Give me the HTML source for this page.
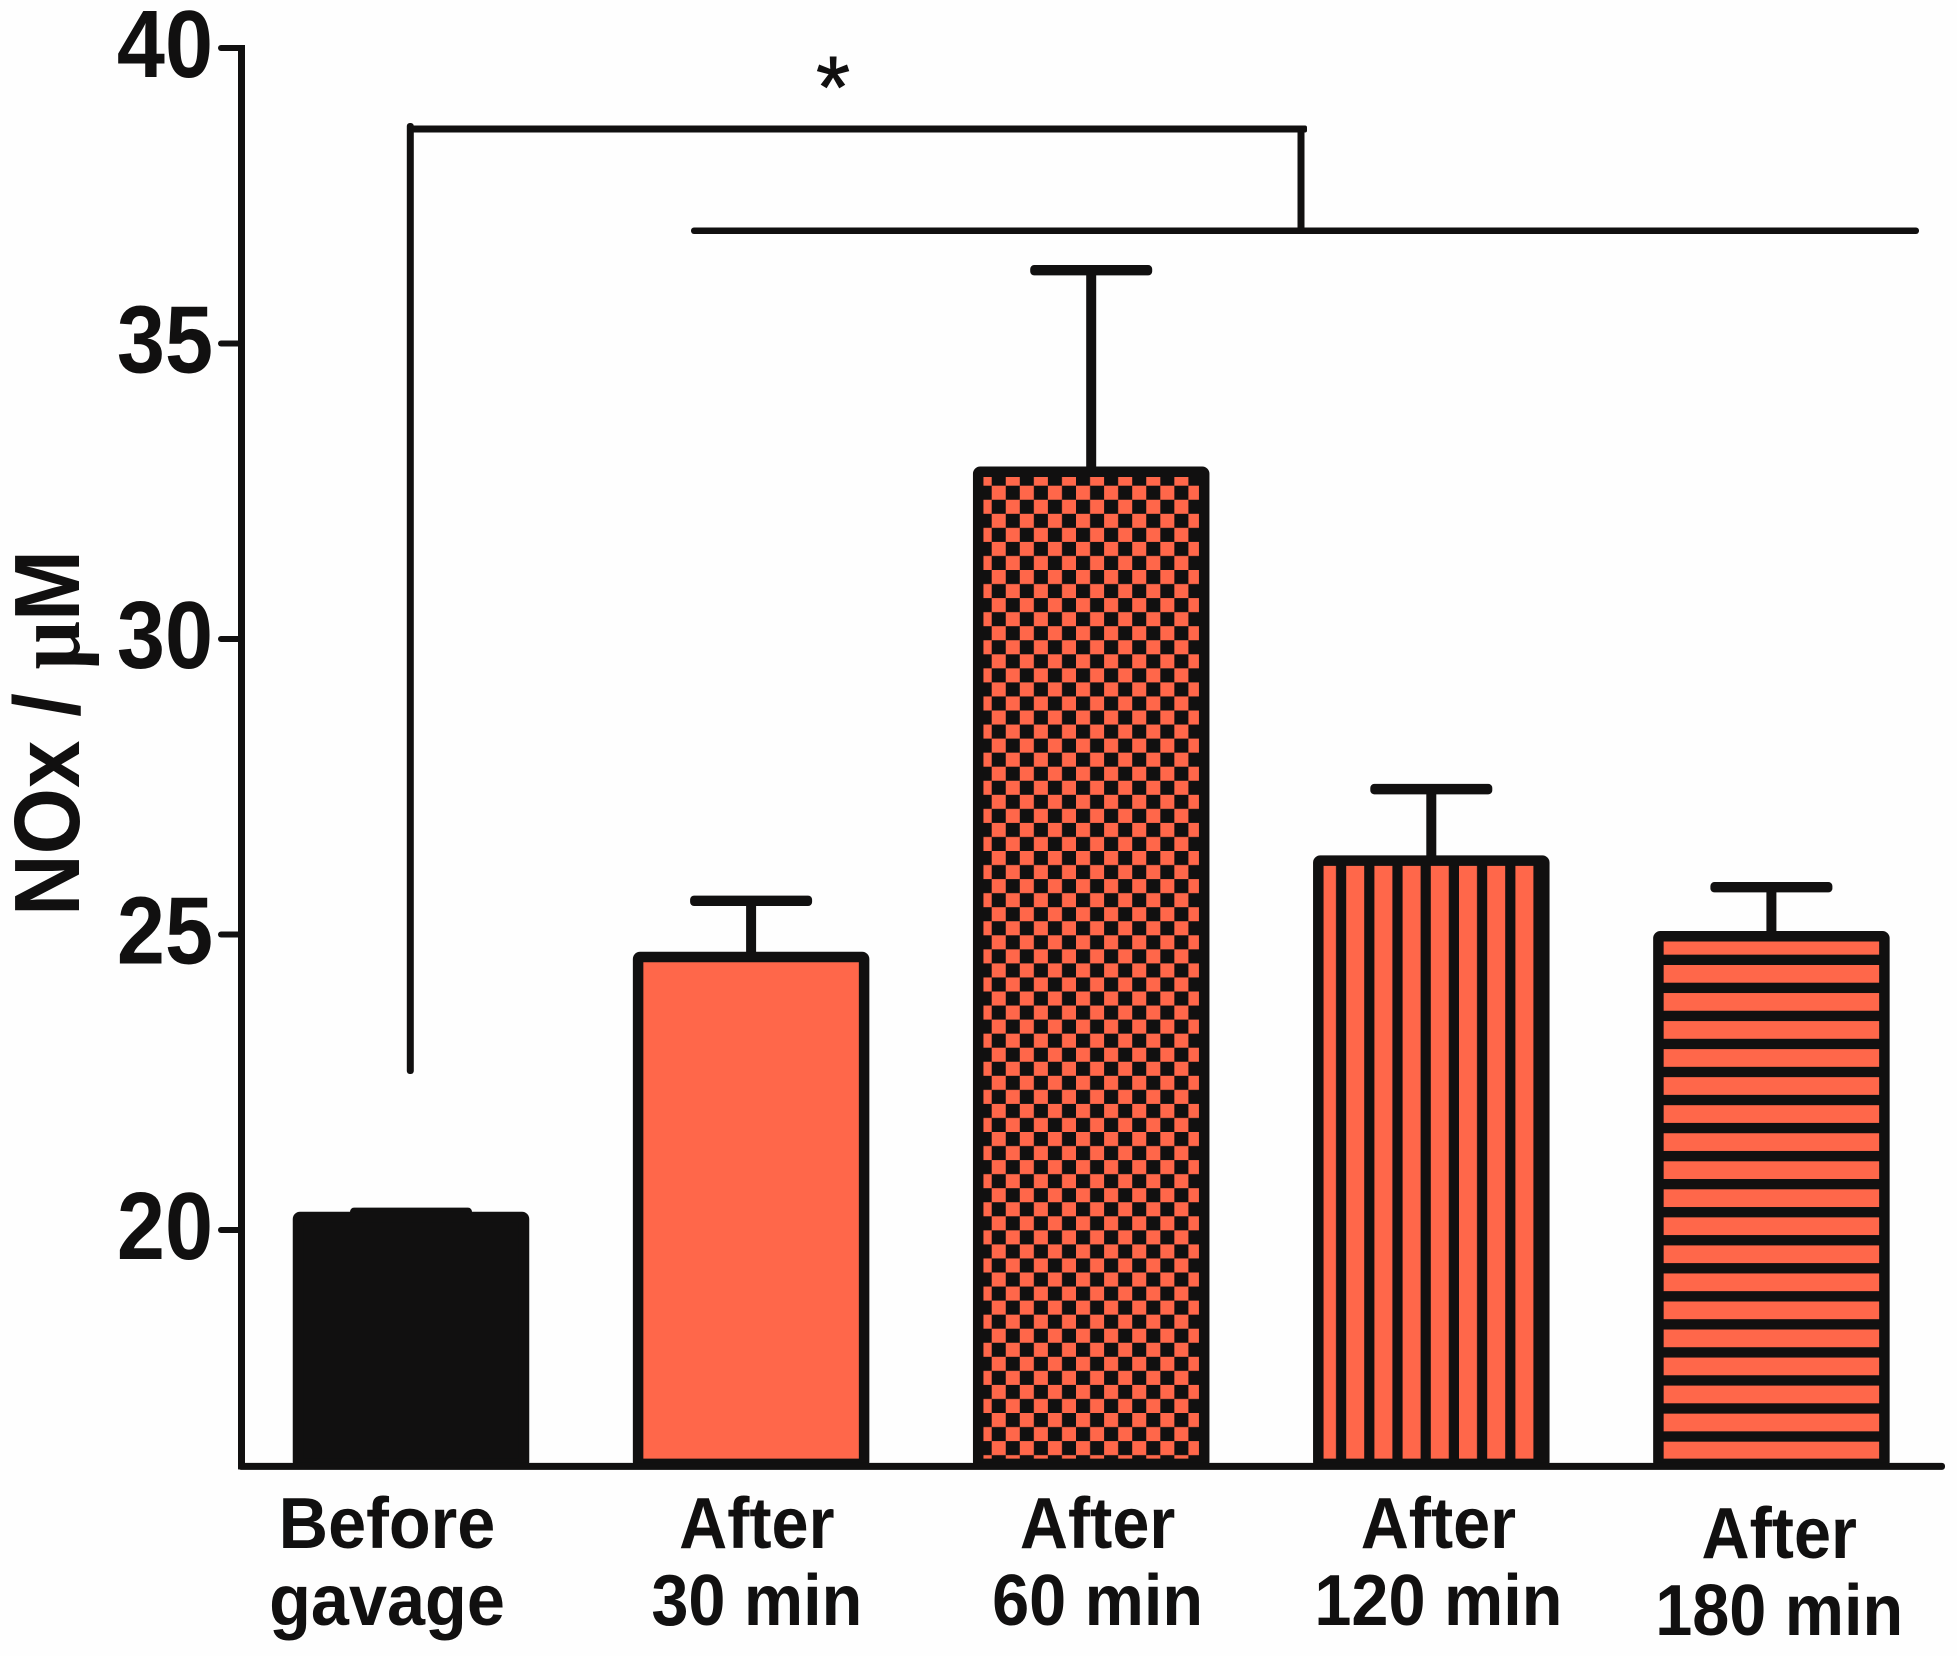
<!DOCTYPE html>
<html lang="en">
<head>
<meta charset="utf-8">
<title>NOx concentration bar chart</title>
<style>
  html, body { margin: 0; padding: 0; background: #fefefe; }
  svg { display: block; }
  text { font-family: "Liberation Sans", Arial, sans-serif; fill: #111010; }
</style>
</head>
<body>
<svg id="chart" xmlns="http://www.w3.org/2000/svg" width="1957" height="1656" viewBox="0 0 1957 1656">
  <defs>
    <pattern id="pattern-checker" patternUnits="userSpaceOnUse" x="991.7" y="485.7" width="28.1" height="28.1">
      <rect x="0" y="0" width="28.1" height="28.1" fill="#111010"/>
      <rect x="0" y="0" width="14.05" height="14.05" fill="#ff674a"/>
      <rect x="14.05" y="14.05" width="14.05" height="14.05" fill="#ff674a"/>
    </pattern>
    <pattern id="pattern-vertical" patternUnits="userSpaceOnUse" x="1346.2" y="0" width="28.2" height="100">
      <rect x="0" y="0" width="28.2" height="100" fill="#111010"/>
      <rect x="0" y="0" width="18" height="100" fill="#ff674a"/>
    </pattern>
    <pattern id="pattern-horizontal" patternUnits="userSpaceOnUse" x="0" y="965" width="100" height="28.04">
      <rect x="0" y="0" width="100" height="28.04" fill="#111010"/>
      <rect x="0" y="0" width="100" height="17.7" fill="#ff674a"/>
    </pattern>
  </defs>
  <rect x="0" y="0" width="1957" height="1656" fill="#fefefe"/>
  <g id="marks"></g>
  <g id="axes"></g>

  <g fill="#111010">
    <rect x="406.8" y="123" width="7" height="951" rx="3"/>
    <rect x="410" y="125.5" width="897" height="7" rx="2"/>
    <rect x="1297.5" y="128" width="7" height="103"/>
    <rect x="691" y="227.5" width="1228" height="6.5" rx="3"/>
  </g>
  <text x="833" y="117" font-size="87" text-anchor="middle" stroke="#111010" stroke-width="1">*</text>

  <text transform="translate(79,916) rotate(-90)" x="0" y="0" font-size="93" font-weight="700" textLength="366" lengthAdjust="spacingAndGlyphs">NOx / <tspan style="font-family:'Liberation Serif',serif">μ</tspan>M</text>
</svg>

<script>
const categories = [
  ["Before", "gavage"],
  ["After", "30 min"],
  ["After", "60 min"],
  ["After", "120 min"],
  ["After", "180 min"]
];
const means = [20.22, 24.62, 32.83, 26.25, 24.97];
const errors = [0.07, 0.95, 3.41, 1.21, 0.83];
const yTicks = [20, 25, 30, 35, 40];
const yTickLabels = ["20", "25", "30", "35", "40"];
const barFills = ["#111010", "#ff674a", "url(#pattern-checker)", "url(#pattern-vertical)", "url(#pattern-horizontal)"];

const NS = "http://www.w3.org/2000/svg";
const INK = "#111010";
const BASE_VALUE = 16;

function yScale(v) { return 1230 - (v - 20) * 59.1; }
function xBand(i) { return 411 + 340.1 * i; }
function labelX(i) { return i === 0 ? xBand(i) - 24 : xBand(i) + 5 + 0.7 * i; }
function labelDrop(i) { return i === 4 ? 10 : 0; }
function labelSquash(i) { return i === 0 ? 0.95 : 0.925; }

function make(tag, attrs) {
  const node = document.createElementNS(NS, tag);
  Object.keys(attrs).forEach(function (k) { node.setAttribute(k, attrs[k]); });
  return node;
}

const marks = document.getElementById("marks");
const axes = document.getElementById("axes");
const BAR_HALF = 113;
const CAP_HALF = 61;

categories.forEach(function (cat, i) {
  const cx = xBand(i);
  const label = cat.join("-").replace(/\s+/g, "-").toLowerCase();
  const top = yScale(means[i]);
  const bottom = yScale(BASE_VALUE);
  const capY = yScale(means[i] + errors[i]);

  const stem = make("rect", { x: cx - 5, y: capY, width: 10, height: top - capY, fill: INK });
  
  
  marks.appendChild(stem);

  const cap = make("rect", { x: cx - CAP_HALF, y: capY - 5.2, width: CAP_HALF * 2, height: 10.4, rx: 4, fill: INK });
  
  
  marks.appendChild(cap);

  const bar = make("rect", {
    x: cx - BAR_HALF, y: top, width: BAR_HALF * 2, height: bottom - 2.5 - top,
    rx: 2, fill: barFills[i], stroke: INK, "stroke-width": 10.5
  });
  
  
  marks.appendChild(bar);

  const line1 = make("text", {
    transform: "translate(" + labelX(i) + "," + (1548 + labelDrop(i)) + ") scale(" + labelSquash(i) + ",1)",
    x: 0, y: 0, "font-size": 72, "font-weight": 700, "text-anchor": "middle"
  });
  line1.textContent = cat[0];
  
  
  axes.appendChild(line1);

  const line2 = make("text", {
    transform: "translate(" + labelX(i) + "," + (1625 + labelDrop(i)) + ") scale(" + labelSquash(i) + ",1)",
    x: 0, y: 0, "font-size": 72, "font-weight": 700, "text-anchor": "middle"
  });
  line2.textContent = cat[1];
  
  
  axes.appendChild(line2);
});

const yAxisLine = make("rect", { x: 238, y: yScale(40) - 3, width: 7, height: yScale(BASE_VALUE) - yScale(40) + 6, fill: INK });


axes.appendChild(yAxisLine);

const xAxisLine = make("rect", { x: 238, y: yScale(BASE_VALUE) - 3.5, width: 1707, height: 7, rx: 3, fill: INK });


axes.appendChild(xAxisLine);

yTicks.forEach(function (t, i) {
  const tick = make("rect", { x: 218, y: yScale(t) - 3, width: 24, height: 6, rx: 3, fill: INK });
  
  
  axes.appendChild(tick);

  const tickLabel = make("text", {
    transform: "translate(213," + (yScale(t) + 29) + ") scale(0.9,1)",
    x: 0, y: 0, "font-size": 96, "font-weight": 700, "text-anchor": "end"
  });
  tickLabel.textContent = yTickLabels[i];
  
  
  axes.appendChild(tickLabel);
});
</script>
</body>
</html>
